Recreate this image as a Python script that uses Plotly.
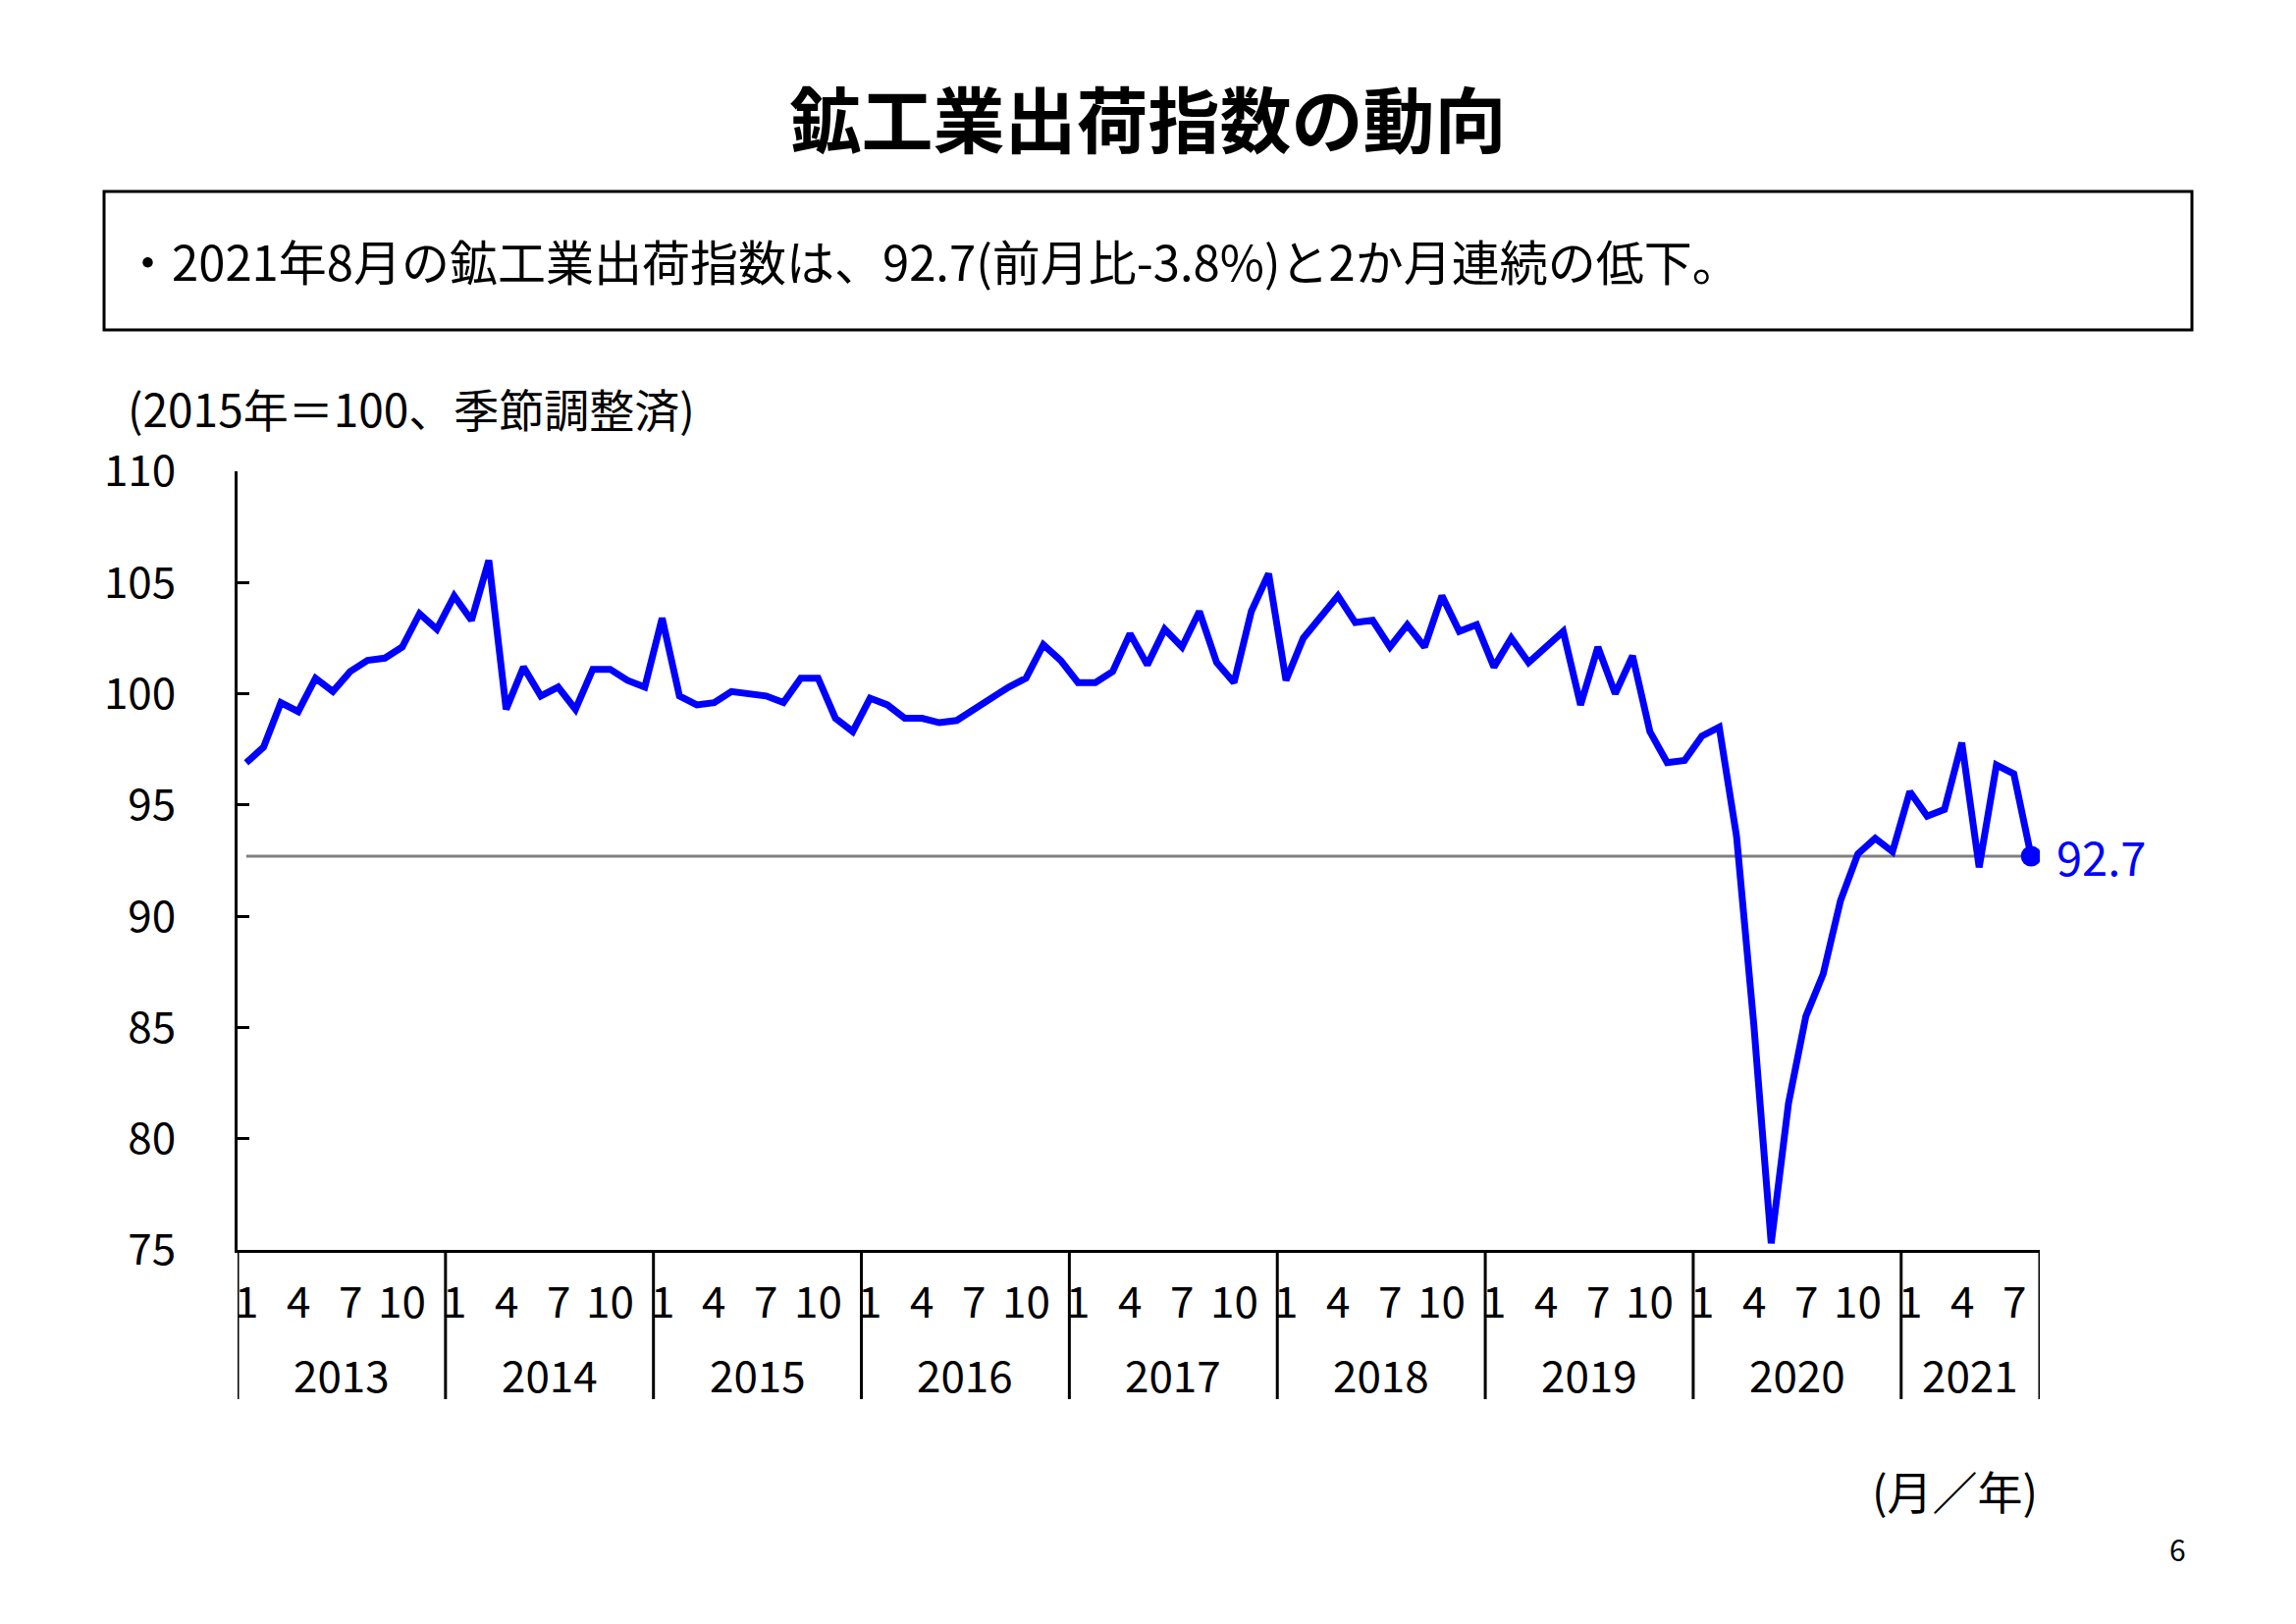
import plotly.graph_objects as go

# ---------------- data ----------------
years = [2013, 2014, 2015, 2016, 2017, 2018, 2019, 2020, 2021]
values_2013 = [96.9, 97.6, 99.6, 99.2, 100.7, 100.1, 101.0, 101.5, 101.6, 102.1, 103.6, 102.9]
values_2014 = [104.4, 103.3, 106.0, 99.3, 101.2, 99.9, 100.3, 99.3, 101.1, 101.1, 100.6, 100.3]
values_2015 = [103.4, 99.9, 99.5, 99.6, 100.1, 100.0, 99.9, 99.6, 100.7, 100.7, 98.9, 98.3]
values_2016 = [99.8, 99.5, 98.9, 98.9, 98.7, 98.8, 99.3, 99.8, 100.3, 100.7, 102.2, 101.5]
values_2017 = [100.5, 100.5, 101.0, 102.7, 101.3, 102.9, 102.1, 103.7, 101.4, 100.5, 103.7, 105.4]
values_2018 = [100.6, 102.5, 103.5, 104.4, 103.2, 103.3, 102.1, 103.1, 102.1, 104.4, 102.8, 103.1]
values_2019 = [101.2, 102.5, 101.4, 102.1, 102.8, 99.5, 102.1, 100.0, 101.7, 98.3, 96.9, 97.0]
values_2020 = [98.1, 98.5, 93.6, 85.1, 75.3, 81.6, 85.5, 87.4, 90.7, 92.8, 93.5, 92.9]
values_2021 = [95.6, 94.5, 94.8, 97.8, 92.2, 96.8, 96.4, 92.7]
yearly_values = [values_2013, values_2014, values_2015, values_2016, values_2017,
                 values_2018, values_2019, values_2020, values_2021]
month_labels_shown = [1, 4, 7, 10]
y_ticks = [75, 80, 85, 90, 95, 100, 105, 110]

title_text = "鉱工業出荷指数の動向"
summary_text = "・2021年8月の鉱工業出荷指数は、92.7(前月比-3.8%)と2か月連続の低下。"
unit_text = "(2015年＝100、季節調整済)"
xunit_text = "(月／年)"
page_text = "6"

# ---------------- derived ----------------
values = [v for yv in yearly_values for v in yv]
months = [m + 1 for yv in yearly_values for m in range(len(yv))]
xs = list(range(len(values)))
year_start = []
pos = 0
for yv in yearly_values:
    year_start.append(pos)
    pos += len(yv)
last = values[-1]

# ---------------- layout geometry ----------------
W, H = 2339, 1654
L, R, T, B = 242, 2078, 480, 1273
FONT = "Noto Sans CJK JP"


def px(x):
    return (x - L) / (R - L)


def py(y):
    return (B - y) / (B - T)


fig = go.Figure()
fig.add_trace(go.Scatter(x=[xs[0], xs[-1]], y=[last, last], mode="lines",
                         line=dict(color="#808080", width=3), hoverinfo="skip"))
fig.add_trace(go.Scatter(x=xs, y=values, mode="lines",
                         line=dict(color="#0000FF", width=7)))
fig.add_trace(go.Scatter(x=[xs[-1]], y=[last], mode="markers",
                         marker=dict(color="#0000FF", size=21)))

shapes = []
sep_positions = [s - 0.5 for s in year_start] + [len(values) - 0.5]
for sx in sep_positions:
    shapes.append(dict(type="line", xref="x", yref="paper", x0=sx, x1=sx,
                       y0=0, y1=py(1425), line=dict(color="black", width=3)))
# summary box
shapes.append(dict(type="rect", xref="paper", yref="paper",
                   x0=px(106), x1=px(2233), y0=py(336), y1=py(195),
                   line=dict(color="black", width=3), fillcolor="rgba(0,0,0,0)"))

annotations = []
for i, m in zip(xs, months):
    if m in month_labels_shown:
        annotations.append(dict(x=i, y=0, xref="x", yref="paper", yanchor="middle",
                                xanchor="center", yshift=-50, showarrow=False,
                                text=str(m), font=dict(size=44, color="black", family=FONT)))
for yr, start, yv in zip(years, year_start, yearly_values):
    annotations.append(dict(x=start + (len(yv) - 1) / 2, y=0, xref="x", yref="paper",
                            yanchor="middle", xanchor="center", yshift=-126, showarrow=False,
                            text=str(yr), font=dict(size=44, color="black", family=FONT)))
annotations.append(dict(x=xs[-1], y=last, xref="x", yref="y", xanchor="left",
                        yanchor="middle", xshift=24, showarrow=False, text=f"{last}",
                        font=dict(size=47, color="#0000FF", family=FONT)))
annotations.append(dict(x=px(124), y=py(265), xref="paper", yref="paper",
                        xanchor="left", yanchor="middle", showarrow=False,
                        text=summary_text, font=dict(size=49, color="black", family=FONT)))
annotations.append(dict(x=px(128), y=py(415), xref="paper", yref="paper",
                        xanchor="left", yanchor="middle", showarrow=False,
                        text=unit_text, font=dict(size=46, color="black", family=FONT)))
annotations.append(dict(x=1.0, y=py(1517), xref="paper", yref="paper",
                        xanchor="right", yanchor="middle", showarrow=False,
                        text=xunit_text, font=dict(size=46, color="black", family=FONT)))
annotations.append(dict(x=px(2218), y=py(1577), xref="paper", yref="paper",
                        xanchor="center", yanchor="middle", showarrow=False,
                        text=page_text, font=dict(size=30, color="black", family=FONT)))

fig.update_layout(
    width=W, height=H, autosize=False,
    margin=dict(l=L, r=W - R, t=T, b=H - B, pad=0),
    paper_bgcolor="white", plot_bgcolor="white",
    showlegend=False,
    font=dict(family=FONT, color="black"),
    title=dict(text=f"<b>{title_text}</b>", x=0.5, xanchor="center",
               y=1 - 124 / H, yanchor="middle", yref="container",
               font=dict(size=73, color="black", family=FONT)),
    xaxis=dict(range=[-0.5, len(values) - 0.5], showline=True, linecolor="black",
               linewidth=3, showticklabels=False, ticks="", showgrid=False,
               zeroline=False, fixedrange=True),
    yaxis=dict(range=[75, 110], tickvals=y_ticks, ticks="inside", ticklen=12,
               tickwidth=3, tickcolor="black", showline=True, linecolor="black",
               linewidth=3, showgrid=False, zeroline=False,
               tickfont=dict(size=44, color="black", family=FONT),
               ticklabelstandoff=51),
    shapes=shapes,
    annotations=annotations,
)

fig.write_html("out.html")
